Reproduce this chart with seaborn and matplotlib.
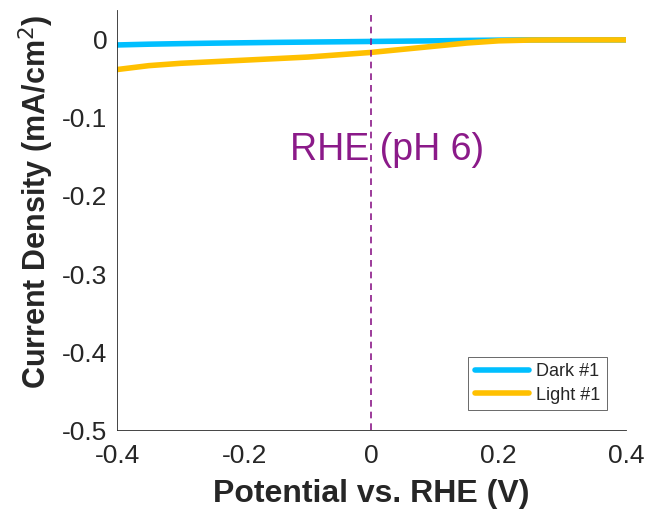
import numpy as np
import pandas as pd
import seaborn as sns
import matplotlib
matplotlib.use("Agg")
import matplotlib.pyplot as plt

potential = [-0.4, -0.35, -0.3, -0.25, -0.2, -0.15, -0.1, -0.05, 0.0, 0.05, 0.1, 0.15, 0.2, 0.25, 0.3, 0.35, 0.4]
dark = [-0.0065, -0.0055, -0.0048, -0.0042, -0.0037, -0.0032, -0.0028, -0.0024, -0.002, -0.0016, -0.0012, -0.0007, -0.0003, 0.0, 0.0, 0.0, 0.0]
light = [-0.038, -0.033, -0.030, -0.028, -0.026, -0.024, -0.022, -0.019, -0.016, -0.012, -0.008, -0.004, -0.0012, -0.0002, 0.0, 0.0, 0.0]
series_names = ["Dark #1", "Light #1"]
xticks = [-0.4, -0.2, 0, 0.2, 0.4]
yticks = [0, -0.1, -0.2, -0.3, -0.4, -0.5]

df = pd.concat([
    pd.DataFrame({"Potential": potential, "J": dark, "Series": series_names[0]}),
    pd.DataFrame({"Potential": potential, "J": light, "Series": series_names[1]}),
])

sns.set_style("white")
plt.rcParams['font.family'] = ['Liberation Sans', 'DejaVu Sans']

fig = plt.figure(figsize=(6.48, 5.12), dpi=100)
ax = fig.add_axes([0.1806, 0.160, 0.7854, 0.820])

sns.lineplot(data=df, x="Potential", y="J", hue="Series",
             palette=["#00BFFF", "#FFC000"], linewidth=4, ax=ax, legend=True)

ax.axvline(0, color="#8B1A89", linestyle=(0, (4, 3)), linewidth=1.2)
ax.text(0.024, -0.141, "RHE (pH 6)", color="#8B1A89", fontsize=27, ha="center", va="center")

ax.set_xlim(-0.4, 0.4)
ax.set_ylim(-0.5, 0.038)
ax.set_xticks(xticks)
ax.set_xticklabels(["-0.4", "-0.2", "0", "0.2", "0.4"])
ax.set_yticks(yticks)
ax.set_yticklabels(["0", "-0.1", "-0.2", "-0.3", "-0.4", "-0.5"])
ax.tick_params(direction="in", length=5, labelsize=19, colors="#262626", width=0.6, pad=7)
ax.tick_params(axis="x", pad=10)
ax.set_xlabel("Potential vs. RHE (V)", fontsize=23, fontweight="bold", color="#262626", labelpad=8)
ax.set_ylabel("Current Density (mA/cm$^2$)", fontsize=22, fontweight="bold", color="#262626")
ax.yaxis.set_label_coords(-0.12, 0.545)
for s in ["top", "right"]:
    ax.spines[s].set_visible(False)
for s in ["left", "bottom"]:
    ax.spines[s].set_color("#262626")
    ax.spines[s].set_linewidth(0.6)

leg = ax.legend(loc="lower right", fontsize=13, frameon=True, fancybox=False,
                edgecolor="#262626", handlelength=3.0, borderpad=0.35, labelspacing=0.35,
                handletextpad=0.4, borderaxespad=0, bbox_to_anchor=(0.962, 0.048))
leg.get_frame().set_linewidth(0.6)

fig.savefig("out.png", dpi=100)
